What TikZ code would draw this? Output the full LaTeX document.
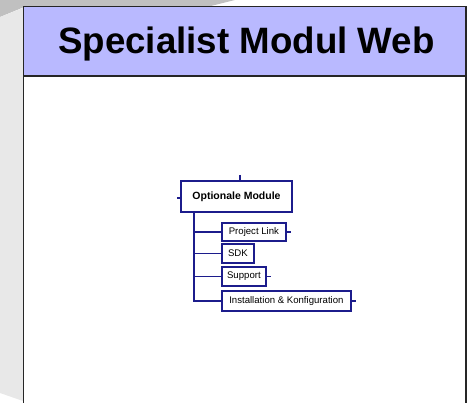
\documentclass[tikz,border=0pt]{standalone}
\usepackage{fontspec}
\setmainfont{Liberation Sans}
\definecolor{navyline}{RGB}{28,28,140}
\definecolor{headerblue}{RGB}{185,185,255}
\definecolor{backdark}{RGB}{192,192,192}
\definecolor{backlight}{RGB}{232,232,232}
\tikzset{
  treebox/.style={draw=navyline, line width=1.8pt, fill=white, inner sep=0pt,
    font=\fontsize{9.6}{11}\selectfont, anchor=west},
  rootbox/.style={draw=navyline, line width=1.8pt, fill=white, inner sep=0pt,
    font=\bfseries\fontsize{10.5}{12}\selectfont,
    minimum width=111pt, minimum height=31pt},
  treeline/.style={draw=navyline, line width=1.8pt},
  frameline/.style={line width=1.5pt, draw=black!85}
}
\begin{document}
\begin{tikzpicture}[x=1pt,y=-1pt]
\useasboundingbox (0,0) rectangle (467,403);
% background panels
\fill[backdark] (0,0) -- (235,0) -- (205,7.5) -- (23,7.5) -- (0,17) -- cycle;
\fill[backlight] (0,17) -- (23,8) -- (23,401) -- (0,393) -- cycle;
% main frame
\path[frameline, fill=white] (23.5,6.5) rectangle (466,412);
\path[frameline, fill=headerblue] (23.5,6.5) rectangle (466,76);
\node[font=\bfseries\fontsize{36.7}{40}\selectfont, anchor=base] (title) at (246.5,54) {Specialist Modul Web};
% tree
\node[rootbox] (opt) at (236.5,196.5) {Optionale Module};
\node[treebox, minimum width=64pt, minimum height=18pt] (pl) at (221,232) {Project Link};
\node[treebox, minimum width=32pt, minimum height=19pt] (sdk) at (221,253.5) {SDK};
\node[treebox, minimum width=44pt, minimum height=19pt] (sup) at (221,276.5) {Support};
\node[treebox, minimum width=129pt, minimum height=20pt] (inst) at (221,301) {Installation \& Konfiguration};
% stubs
\coordinate (topstub) at (240,175);
\coordinate (leftstub) at (177,198);
\coordinate (plstub) at ([xshift=4.5pt]pl.east);
\coordinate (supstub) at ([xshift=4.5pt]sup.east);
\coordinate (inststub) at ([xshift=4.5pt]inst.east);
\draw[treeline] (topstub) -- (topstub |- opt.north);
\draw[treeline] (leftstub) -- (leftstub -| opt.west);
\draw[treeline] (pl.east) -- (plstub);
\draw[treeline] (sup.east) -- (supstub);
\draw[treeline] (inst.east) -- (inststub);
% trunk and branches
\coordinate (trunk) at (194,212);
\draw[treeline] (trunk |- opt.south) -- (trunk |- inst.west) -- (inst.west);
\draw[treeline] (trunk |- pl.west) -- (pl.west);
\draw[treeline] (trunk |- sdk.west) -- (sdk.west);
\draw[treeline] (trunk |- sup.west) -- (sup.west);
\end{tikzpicture}
\end{document}
